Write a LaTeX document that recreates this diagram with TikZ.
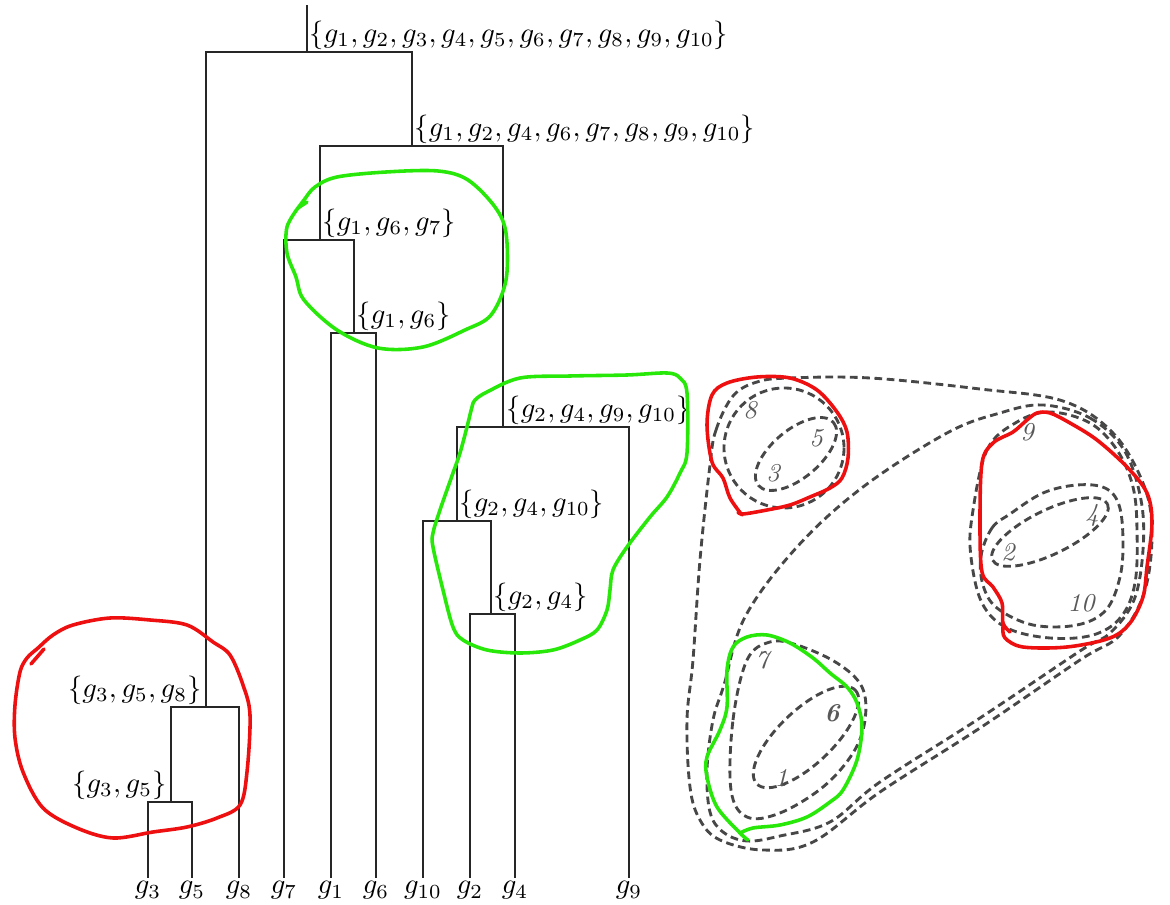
\documentclass[tikz,border=0pt]{standalone}
\begin{document}
\begin{tikzpicture}[x=0.35pt,y=-0.35pt,
  dend/.style={line width=0.7pt,black!85},
  setlab/.style={inner sep=0pt,font=\normalsize},
  leaflab/.style={inner sep=0pt,anchor=base},
  clus/.style={line width=1pt,black!72,dash pattern=on 2.7pt off 1.6pt},
  num/.style={inner sep=0pt,font=\small\itshape,text=black!65},
  redloop/.style={line width=1.25pt,draw={rgb,255:red,238;green,16;blue,16},line cap=round,line join=round},
  greenloop/.style={line width=1.25pt,draw={rgb,255:red,40;green,232;blue,10},line cap=round,line join=round}]
\useasboundingbox[fill=white] (0,0) rectangle (1170,905);

% ---------- dendrogram ----------
\foreach \n/\x/\t in {g3/148/3,g5/192/5,g8/239/8,g7/284/7,g1/331/1,g6/376/6,g10/423/{10},g2/470/2,g4/515/4,g9/629/9}{
  \coordinate (\n) at (\x,878);
  \node[leaflab] (l\n) at (\x,894) {$g_{\t}$};
}
\coordinate (c35) at (171,802);
\coordinate (c358) at (206,707);
\coordinate (c16) at (354,333);
\coordinate (c167) at (320,240);
\coordinate (c24) at (491,614);
\coordinate (c2410) at (457,521);
\coordinate (c24910) at (503,427);
\coordinate (cbig) at (412,146);
\coordinate (root) at (307,52);
\coordinate (top) at (307,5);

\draw[dend] (g3) |- (c35) -| (g5);
\draw[dend] (c35) |- (c358) -| (g8);
\draw[dend] (g1) |- (c16) -| (g6);
\draw[dend] (g7) |- (c167) -| (c16);
\draw[dend] (g2) |- (c24) -| (g4);
\draw[dend] (g10) |- (c2410) -| (c24);
\draw[dend] (c2410) |- (c24910) -| (g9);
\draw[dend] (c167) |- (cbig) -| (c24910);
\draw[dend] (c358) |- (root) -| (cbig);
\draw[dend] (root) -- (top);

\node[setlab,anchor=south west] (lroot) at ([shift={(2,-2)}]root) {$\{g_1,g_2,g_3,g_4,g_5,g_6,g_7,g_8,g_9,g_{10}\}$};
\node[setlab,anchor=south west] (lbig) at ([shift={(2,-2)}]cbig) {$\{g_1,g_2,g_4,g_6,g_7,g_8,g_9,g_{10}\}$};
\node[setlab,anchor=south west] (l167) at ([shift={(2,-2)}]c167) {$\{g_1,g_6,g_7\}$};
\node[setlab,anchor=south west] (l16) at ([shift={(2,-2)}]c16) {$\{g_1,g_6\}$};
\node[setlab,anchor=south west] (l24910) at ([shift={(3,-2)}]c24910) {$\{g_2,g_4,g_9,g_{10}\}$};
\node[setlab,anchor=south west] (l2410) at ([shift={(2,-2)}]c2410) {$\{g_2,g_4,g_{10}\}$};
\node[setlab,anchor=south west] (l24) at ([shift={(2,-2)}]c24) {$\{g_2,g_4\}$};
\node[setlab,anchor=south east] (l358) at ([shift={(-4,-2)}]c358) {$\{g_3,g_5,g_8\}$};
\node[setlab,anchor=south east] (l35) at ([shift={(-4,-2)}]c35) {$\{g_3,g_5\}$};

% ---------- nested dashed clusters ----------
% outer (all)
\draw[clus] plot[smooth cycle,tension=0.6] coordinates {
 (710,465) (716,430) (733,396) (757,382) (790,378) (870,378) (980,389) (1063,401)
 (1113,433) (1143,483) (1152,530) (1145,590) (1120,635) (1080,660) (980,728) (880,792)
 (813,842) (763,850) (720,840) (700,820) (690,787) (687,720) (693,660) (700,560)};
% boomerang {1,2,4,6,7,9,10}
\draw[clus] plot[smooth cycle,tension=0.6] coordinates {
 (1043,405) (1090,418) (1124,450) (1141,500) (1143,550) (1134,600) (1110,633) (1080,651)
 (980,718) (880,782) (830,822) (780,836) (747,841) (723,832) (710,812) (707,770)
 (713,720) (724,685) (745,617) (797,547) (863,487) (947,433) (1000,413)};
% {3,5,8} and {3,5}
\draw[clus] (784,448) circle [radius=60];
\draw[clus, rotate around={40:(796,454)}] (796,454) ellipse (49 and 24);
% {2,4,9,10}, {2,4,10}, {2,4}
\draw[clus] plot[smooth cycle,tension=0.6] coordinates {
 (972,517) (987,450) (1017,422) (1050,412) (1090,423) (1117,450) (1133,487) (1137,530)
 (1135,583) (1121,617) (1093,635) (1050,638) (1007,628) (982,603) (971,557)};
\draw[clus] plot[smooth cycle,tension=0.6] coordinates {
 (981,556) (992,528) (1010,514) (1043,493) (1077,485) (1105,488) (1119,505) (1123,540)
 (1120,577) (1106,610) (1077,625) (1033,625) (997,608) (983,585)};
\draw[clus, rotate around={26:(1050,532)}] (1050,532) ellipse (64 and 22);
% {1,6,7} and {1,6}
\draw[clus] plot[smooth cycle,tension=0.6] coordinates {
 (731,790) (733,720) (747,660) (770,642) (797,645) (837,663) (862,687) (865,720)
 (853,753) (823,787) (780,813) (747,817)};
\draw[clus, rotate around={43.5:(806,737)}] (806,737) ellipse (68 and 27);

\node[num] (n8) at (750,410) {8};
\node[num] (n5) at (816,438) {5};
\node[num] (n3) at (773,473) {3};
\node[num] (n9) at (1027,432) {9};
\node[num] (n4) at (1092,515) {4};
\node[num] (n2) at (1008,552) {2};
\node[num] (n10) at (1081,603) {10};
\node[num] (n7) at (762,660) {7};
\node[num,font=\small\itshape\bfseries] (n6) at (832,713) {6};
\node[num] (n1) at (781,778) {1};

% ---------- hand-drawn annotations ----------
\draw[redloop] plot[smooth cycle,tension=0.55] coordinates {
 (27,658) (20,672) (15,705) (15,738) (23,772) (43,808) (77,828) (113,838) (153,832)
 (187,827) (217,818) (240,805) (247,772) (250,715) (243,685) (230,655) (213,642)
 (187,625) (150,620) (110,618) (73,625) (53,635) (38,648)};
\draw[redloop] (31,664) -- (44,649);
\draw[greenloop] plot[smooth,tension=0.55] coordinates {
 (298,208) (287,227) (287,253) (296,277) (304,300) (337,330) (378,348) (423,347)
 (465,330) (491,315) (506,280) (506,233) (495,207) (468,180) (438,171) (386,172)
 (337,177) (315,187) (304,200) (295,212)};
\draw[greenloop] (298,208) -- (307,202);
\draw[greenloop] plot[smooth cycle,tension=0.55] coordinates {
 (475,400) (487,392) (520,378) (570,376) (627,375) (667,373) (680,378) (687,393)
 (687,453) (680,473) (667,497) (650,517) (627,547) (613,570) (610,590) (607,610)
 (597,630) (580,640) (553,650) (520,653) (487,650) (463,640) (453,627) (443,590)
 (433,547) (433,533) (440,510) (453,473) (460,453) (467,427) (472,407)};
\draw[redloop] plot[smooth,tension=0.55] coordinates {
 (742,515) (730,498) (723,478) (712,462) (707,425) (712,395) (727,383) (757,377)
 (790,378) (817,390) (837,412) (847,432) (848,458) (842,478) (830,488) (810,497)
 (790,505) (767,510) (743,514) (738,512)};
\draw[redloop] plot[smooth,tension=0.55] coordinates {
 (1010,632) (1003,623) (1002,603) (993,587) (982,572) (980,523) (982,463) (993,443)
 (1013,432) (1027,420) (1037,413) (1050,413) (1070,423) (1097,440) (1127,467)
 (1147,493) (1152,523) (1147,567) (1143,597) (1130,623) (1110,638) (1067,647)
 (1023,647) (1005,638) (1003,627)};
\draw[greenloop] plot[smooth,tension=0.55] coordinates {
 (748,840) (740,833) (717,807) (707,777) (707,757) (720,730) (727,707) (727,670)
 (733,647) (747,637) (767,635) (790,643) (813,658) (830,673) (847,687) (857,703)
 (862,727) (857,760) (843,790) (830,802) (807,817) (780,825) (753,828) (740,833)};
\end{tikzpicture}
\end{document}
